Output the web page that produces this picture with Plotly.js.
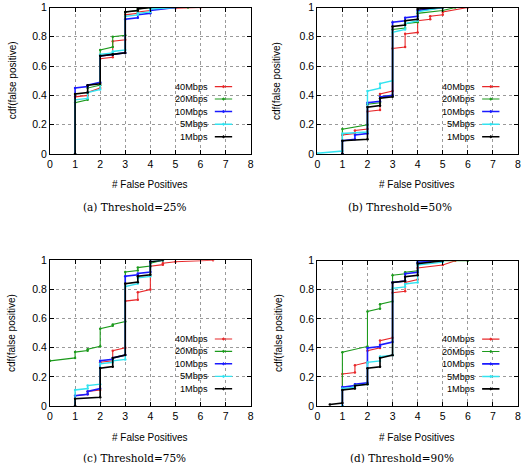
<!DOCTYPE html>
<html>
<head>
<meta charset="utf-8">
<script src="https://cdn.plot.ly/plotly-3.0.1.min.js"></script>
<style>html,body{margin:0;padding:0;background:#fff;}#chart{width:526px;height:463px;}</style>
</head>
<body>
<div id="chart"></div>
<script>
// ---- Data ----
const seriesNames = ['40Mbps', '20Mbps', '10Mbps', '5Mbps', '1Mbps'];
const panelCaptions = ['(a) Threshold=25%', '(b) Threshold=50%', '(c) Threshold=75%', '(d) Threshold=90%'];
const xTitle = '# False Positives';
const yTitle = 'cdf(false positive)';

// Panel (a) Threshold=25%
const a40x = [1, 1, 1.5, 1.5, 2, 2, 2.5, 2.5, 3, 3, 3.5, 3.5, 4, 4, 5, 6];
const a40y = [0, 0.39, 0.40, 0.42, 0.45, 0.65, 0.66, 0.77, 0.78, 0.95, 0.96, 0.97, 0.98, 0.99, 0.995, 1];
const a20x = [1, 1, 1.5, 1.5, 2, 2, 2.5, 2.5, 3, 3, 3.5, 3.5, 4, 5.5];
const a20y = [0, 0.35, 0.37, 0.45, 0.47, 0.71, 0.73, 0.80, 0.81, 0.97, 0.98, 0.99, 1, 1];
const a10x = [1, 1, 1.5, 1.5, 2, 2, 2.5, 2.5, 3, 3, 3.5, 3.5, 4, 4, 5];
const a10y = [0, 0.45, 0.46, 0.47, 0.49, 0.67, 0.68, 0.68, 0.69, 0.92, 0.93, 0.95, 0.96, 0.98, 1];
const a5x = [1, 1, 1.5, 1.5, 2, 2, 2.5, 2.5, 3, 3, 3.5, 3.5, 4, 4, 5];
const a5y = [0, 0.37, 0.38, 0.42, 0.44, 0.68, 0.69, 0.70, 0.71, 0.94, 0.95, 0.96, 0.97, 0.99, 1];
const a1x = [1, 1, 1.5, 1.5, 2, 2, 2.5, 2.5, 3, 3, 3.5, 3.5, 4];
const a1y = [0, 0.41, 0.42, 0.47, 0.48, 0.67, 0.68, 0.68, 0.69, 0.97, 0.98, 0.99, 1];

// Panel (b) Threshold=50%
const b40x = [1, 1, 1.5, 1.5, 2, 2, 2.5, 2.5, 3, 3, 3.5, 3.5, 4, 4, 4.5, 4.5, 5, 5, 6];
const b40y = [0, 0.13, 0.14, 0.16, 0.17, 0.29, 0.30, 0.41, 0.43, 0.72, 0.73, 0.82, 0.83, 0.91, 0.92, 0.94, 0.95, 0.97, 1];
const b20x = [1, 1, 2, 2, 2.5, 2.5, 3, 3, 3.5, 3.5, 4, 4, 5, 5.5];
const b20y = [0, 0.17, 0.20, 0.34, 0.35, 0.39, 0.40, 0.85, 0.86, 0.89, 0.90, 0.96, 0.98, 1];
const b10x = [1, 1, 1.5, 1.5, 2, 2, 2.5, 2.5, 3, 3, 3.5, 3.5, 4, 4, 5];
const b10y = [0, 0.09, 0.10, 0.13, 0.14, 0.35, 0.36, 0.39, 0.40, 0.90, 0.91, 0.93, 0.94, 0.98, 1];
const b5x = [0, 1, 1, 2, 2, 2.5, 2.5, 3, 3, 3.5, 3.5, 4, 4, 5];
const b5y = [0.005, 0.02, 0.14, 0.15, 0.43, 0.45, 0.48, 0.50, 0.83, 0.85, 0.89, 0.91, 0.97, 1];
const b1x = [1, 1, 2, 2, 2.5, 2.5, 3, 3, 3.5, 3.5, 4, 4, 5];
const b1y = [0, 0.09, 0.10, 0.32, 0.33, 0.38, 0.39, 0.87, 0.88, 0.91, 0.92, 0.99, 1];

// Panel (c) Threshold=75%
const c40x = [1, 1, 1.5, 1.5, 2, 2, 2.5, 2.5, 3, 3, 3.5, 3.5, 4, 4, 4.5, 4.5, 5, 6.5];
const c40y = [0, 0.07, 0.08, 0.10, 0.11, 0.30, 0.31, 0.38, 0.40, 0.72, 0.73, 0.78, 0.80, 0.96, 0.97, 0.98, 0.99, 1];
const c20x = [0, 1, 1, 1.5, 1.5, 2, 2, 2.5, 2.5, 3, 3, 3.5, 3.5, 4, 4, 4.5];
const c20y = [0.31, 0.33, 0.37, 0.38, 0.39, 0.41, 0.53, 0.55, 0.56, 0.58, 0.92, 0.93, 0.95, 0.96, 0.98, 1];
const c10x = [1, 1, 1.5, 1.5, 2, 2, 2.5, 2.5, 3, 3, 3.5, 3.5, 4, 4];
const c10y = [0, 0.07, 0.08, 0.10, 0.12, 0.31, 0.32, 0.33, 0.35, 0.89, 0.90, 0.91, 0.92, 1];
const c5x = [1, 1, 1.5, 1.5, 2, 2, 2.5, 2.5, 3, 3, 3.5, 3.5, 4, 4, 4.5];
const c5y = [0, 0.11, 0.12, 0.14, 0.15, 0.29, 0.30, 0.31, 0.32, 0.82, 0.84, 0.88, 0.89, 0.99, 1];
const c1x = [1, 1, 2, 2, 2.5, 2.5, 3, 3, 3.5, 3.5, 4, 4, 4.5];
const c1y = [0, 0.05, 0.06, 0.26, 0.27, 0.33, 0.35, 0.84, 0.85, 0.89, 0.90, 0.99, 1];

// Panel (d) Threshold=90%
const d40x = [1, 1, 1.5, 1.5, 2, 2, 2.5, 2.5, 3, 3, 3.5, 3.5, 4, 4, 5, 5.5];
const d40y = [0, 0.22, 0.23, 0.28, 0.30, 0.38, 0.40, 0.45, 0.47, 0.78, 0.79, 0.85, 0.87, 0.95, 0.97, 1];
const d20x = [1, 1, 2, 2, 2.5, 2.5, 3, 3, 3.5, 3.5, 4, 4, 5, 6];
const d20y = [0, 0.37, 0.41, 0.65, 0.67, 0.70, 0.72, 0.90, 0.91, 0.92, 0.93, 0.99, 1, 1];
const d10x = [1, 1, 1.5, 1.5, 2, 2, 2.5, 2.5, 3, 3, 3.5, 3.5, 4, 4, 5];
const d10y = [0, 0.13, 0.14, 0.15, 0.16, 0.40, 0.41, 0.42, 0.44, 0.85, 0.86, 0.91, 0.92, 0.99, 1];
const d5x = [1, 1, 1.5, 1.5, 2, 2, 2.5, 2.5, 3, 3, 3.5, 3.5, 4, 4, 5];
const d5y = [0, 0.12, 0.13, 0.14, 0.15, 0.30, 0.31, 0.34, 0.35, 0.81, 0.82, 0.84, 0.85, 0.97, 0.99];
const d1x = [0.5, 1, 1, 1.5, 1.5, 2, 2, 2.5, 2.5, 3, 3, 3.5, 3.5, 4, 4, 5];
const d1y = [0.01, 0.02, 0.11, 0.12, 0.14, 0.15, 0.26, 0.27, 0.33, 0.35, 0.85, 0.86, 0.89, 0.90, 0.98, 1];

// ---- Styling ----
const colors = ['#e8282a', '#1c9a1c', '#1a1aff', '#33e3f0', '#000000'];
const widths = [1.1, 1.1, 1.6, 1.4, 1.6];
const font = 'Liberation Sans, Arial, sans-serif';
const serif = 'DejaVu Serif, Liberation Serif, serif';

const panelsX = [[a40x, a20x, a10x, a5x, a1x], [b40x, b20x, b10x, b5x, b1x], [c40x, c20x, c10x, c5x, c1x], [d40x, d20x, d10x, d5x, d1x]];
const panelsY = [[a40y, a20y, a10y, a5y, a1y], [b40y, b20y, b10y, b5y, b1y], [c40y, c20y, c10y, c5y, c1y], [d40y, d20y, d10y, d5y, d1y]];

const W = 526, H = 463;
const px = v => v / W;
const py = v => 1 - v / H;

// plot-area pixel boxes [left, right, top, bottom]
const boxes = [[50, 250.7, 7.5, 154], [317.3, 518, 7.5, 154], [50, 250.7, 260.3, 406], [317.3, 518, 260.7, 406]];
const axIds = ['', '2', '3', '4'];

const traces = [];
panelsX.forEach((pX, p) => {
  pX.forEach((xs, s) => {
    traces.push({
      type: 'scatter', mode: 'lines+markers',
      x: xs, y: panelsY[p][s],
      xaxis: 'x' + axIds[p], yaxis: 'y' + axIds[p],
      line: {color: colors[s], width: widths[s]},
      marker: {color: colors[s], size: 2.5},
      showlegend: false, hoverinfo: 'skip', cliponaxis: true
    });
  });
});

const layout = {
  width: W, height: H,
  margin: {l: 0, r: 0, t: 0, b: 0},
  paper_bgcolor: '#fff', plot_bgcolor: '#fff',
  font: {family: font, size: 10, color: '#000'},
  showlegend: false,
  annotations: [], shapes: []
};

const legendY = [0.46, 0.375, 0.29, 0.203, 0.118];
const xTitlePos = [[150.3, 184.3], [417, 184.3], [150.3, 437.3], [417, 437.3]];
const yTitlePos = [[12.5, 80.7], [276.3, 80.7], [11, 333], [278, 333]];
const capPos = [[134.5, 207.5], [399.7, 207.5], [134, 458], [402, 458]];

boxes.forEach((b, p) => {
  const id = axIds[p];
  const axCommon = {
    showline: true, linecolor: '#000', linewidth: 1, mirror: 'ticks',
    ticks: 'inside', ticklen: 4, tickwidth: 1, tickcolor: '#000',
    showgrid: true, gridcolor: '#9a9a9a', griddash: 'dot', gridwidth: 1,
    zeroline: false, tickfont: {family: font, size: 10.5, color: '#000'},
    fixedrange: true
  };
  layout['xaxis' + id] = Object.assign({}, axCommon, {
    domain: [px(b[0]), px(b[1])], anchor: 'y' + id,
    range: [0, 8], tick0: 0, dtick: 1
  });
  layout['yaxis' + id] = Object.assign({}, axCommon, {
    domain: [py(b[3]), py(b[2])], anchor: 'x' + id,
    range: [0, 1], tick0: 0, dtick: 0.2
  });

  // legend (gnuplot-style: text then line sample)
  seriesNames.forEach((name, s) => {
    layout.annotations.push({
      xref: 'x' + id, yref: 'y' + id, x: 6.37, y: legendY[s],
      text: name, showarrow: false, xanchor: 'right', yanchor: 'middle',
      font: {family: font, size: 9.2, color: '#000'}
    });
    layout.shapes.push({
      type: 'line', xref: 'x' + id, yref: 'y' + id,
      x0: 6.57, x1: 7.26, y0: legendY[s], y1: legendY[s],
      line: {color: colors[s], width: widths[s]}
    });
    layout.shapes.push({
      type: 'circle', xref: 'x' + id, yref: 'y' + id,
      x0: 6.88, x1: 6.95, y0: legendY[s] - 0.007, y1: legendY[s] + 0.007,
      line: {color: colors[s], width: 1}, fillcolor: colors[s]
    });
  });

  layout.annotations.push({
    xref: 'paper', yref: 'paper', x: px(xTitlePos[p][0]), y: py(xTitlePos[p][1]),
    text: xTitle, showarrow: false, xanchor: 'center', yanchor: 'middle',
    font: {family: font, size: 10, color: '#000'}
  });
  layout.annotations.push({
    xref: 'paper', yref: 'paper', x: px(yTitlePos[p][0]), y: py(yTitlePos[p][1]),
    text: yTitle, showarrow: false, xanchor: 'center', yanchor: 'middle', textangle: -90,
    font: {family: font, size: 10, color: '#000'}
  });
  layout.annotations.push({
    xref: 'paper', yref: 'paper', x: px(capPos[p][0]), y: py(capPos[p][1]),
    text: panelCaptions[p], showarrow: false, xanchor: 'center', yanchor: 'middle',
    font: {family: serif, size: 10.5, color: '#000'}
  });
});

Plotly.newPlot('chart', traces, layout, {staticPlot: true, displayModeBar: false});
</script>
</body>
</html>
